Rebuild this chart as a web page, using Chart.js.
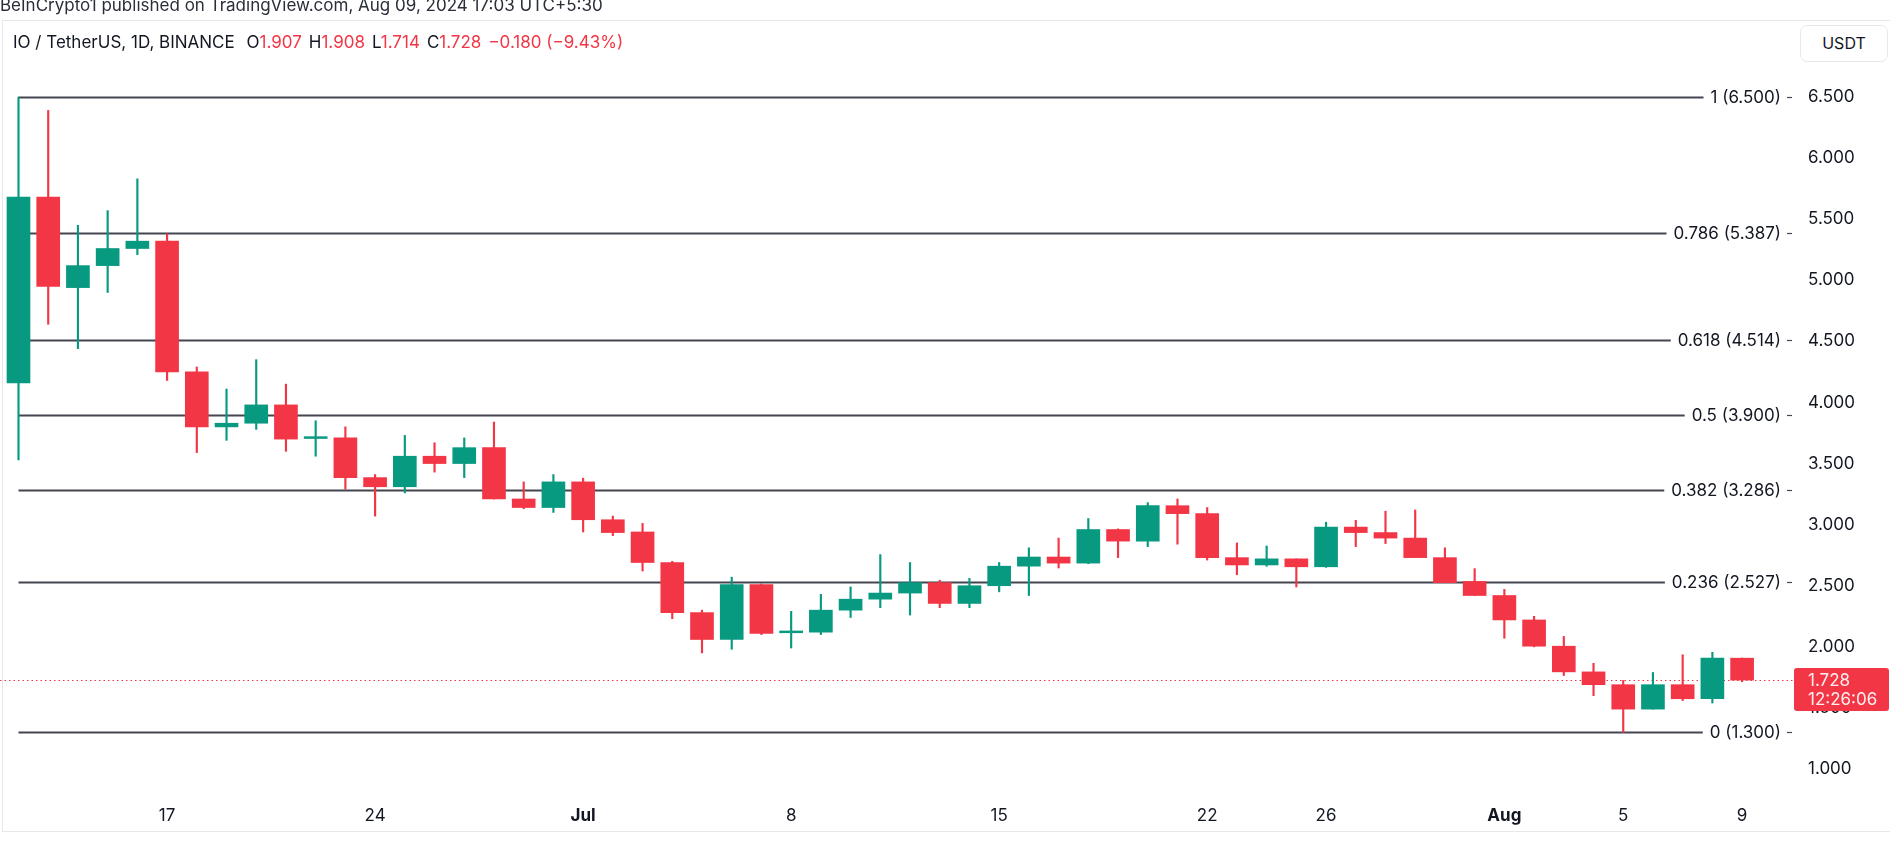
<!DOCTYPE html>
<html>
<head>
<meta charset="utf-8">
<script src="https://cdn.jsdelivr.net/npm/chart.js@4.4.1/dist/chart.umd.min.js"></script>
<style>
  html, body { margin: 0; padding: 0; background: #fff; }
  #wrap { position: relative; width: 1890px; height: 845px; overflow: hidden; font-family: Inter, "Noto Sans", sans-serif; color: #131722; }
  #chart { position: absolute; left: 0; top: 0; }
  #frame { position: absolute; left: 2px; top: 20px; width: 1900px; height: 812px; border: 1px solid #e6e8ee; box-sizing: border-box; pointer-events: none; }
  #published { position: absolute; left: 0; top: -5px; font-size: 17px; line-height: 20px; white-space: nowrap; color: #2a2e39; }
  #legend { position: absolute; left: 13px; top: 32px; font-size: 17px; line-height: 20px; white-space: nowrap; }
  #legend .r { color: #f23645; }
  #legend .g { margin-left: 7px; }
  #unit { position: absolute; left: 1800px; top: 25px; width: 88px; height: 37px; border: 1px solid #e6e8ee; border-radius: 7px; box-sizing: border-box; font-size: 16px; line-height: 35px; text-align: center; background: #fff; }
</style>
</head>
<body>
<div id="wrap">
  <canvas id="chart" width="1890" height="845"></canvas>
  <div id="frame"></div>
  <div id="published">BeInCrypto1 published on TradingView.com, Aug 09, 2024 17:03 UTC+5:30</div>
  <div id="legend">IO / TetherUS, 1D, BINANCE <span class="g">O<span class="r">1.907</span></span><span class="g">H<span class="r">1.908</span></span><span class="g">L<span class="r">1.714</span></span><span class="g">C<span class="r">1.728</span></span><span class="g r">−0.180 (−9.43%)</span></div>
  <div id="unit">USDT</div>
</div>
<script>
// velas diarias IO/USDT, 12 jun - 9 ago 2024 (indice 0 = 12 jun)
const opens  = [4.16, 5.68, 4.94, 5.12, 5.26, 5.32, 4.25, 3.80, 3.83, 3.98,
                3.705, 3.71, 3.385, 3.31, 3.56, 3.50, 3.63, 3.21, 3.14, 3.35,
                3.04, 2.94, 2.69, 2.28, 2.06, 2.51, 2.115, 2.12, 2.30, 2.39,
                2.44, 2.525, 2.355, 2.50, 2.66, 2.735, 2.685, 2.96, 2.865, 3.155,
                3.09, 2.73, 2.67, 2.72, 2.655, 2.98, 2.935, 2.89, 2.73, 2.535,
                2.42, 2.22, 2.005, 1.795, 1.69, 1.49, 1.69, 1.575, 1.907];
const highs  = [6.50, 6.39, 5.45, 5.57, 5.83, 5.38, 4.29, 4.11, 4.35, 4.15,
                3.85, 3.80, 3.41, 3.73, 3.67, 3.71, 3.84, 3.35, 3.41, 3.38,
                3.07, 3.01, 2.70, 2.30, 2.57, 2.515, 2.29, 2.43, 2.49, 2.755,
                2.69, 2.545, 2.56, 2.69, 2.81, 2.89, 3.05, 2.965, 3.18, 3.21,
                3.14, 2.85, 2.825, 2.72, 3.02, 3.035, 3.11, 3.12, 2.81, 2.64,
                2.47, 2.25, 2.085, 1.865, 1.725, 1.79, 1.935, 1.955, 1.908];
const lows   = [3.53, 4.64, 4.44, 4.90, 5.21, 4.18, 3.59, 3.69, 3.78, 3.60,
                3.56, 3.29, 3.07, 3.26, 3.43, 3.385, 3.21, 3.13, 3.10, 2.94,
                2.91, 2.62, 2.23, 1.95, 1.98, 2.10, 1.99, 2.10, 2.24, 2.32,
                2.26, 2.32, 2.32, 2.45, 2.42, 2.645, 2.68, 2.73, 2.82, 2.84,
                2.71, 2.59, 2.66, 2.49, 2.65, 2.82, 2.845, 2.73, 2.525, 2.42,
                2.07, 2.00, 1.765, 1.60, 1.30, 1.49, 1.56, 1.54, 1.714];
const closes = [5.68, 4.95, 5.12, 5.26, 5.32, 4.25, 3.80, 3.83, 3.98, 3.70,
                3.72, 3.385, 3.31, 3.56, 3.50, 3.63, 3.21, 3.14, 3.35, 3.04,
                2.935, 2.69, 2.28, 2.06, 2.51, 2.11, 2.13, 2.30, 2.39, 2.44,
                2.525, 2.355, 2.50, 2.66, 2.735, 2.685, 2.96, 2.865, 3.155, 3.09,
                2.73, 2.67, 2.72, 2.655, 2.98, 2.935, 2.89, 2.73, 2.525, 2.42,
                2.22, 2.005, 1.795, 1.69, 1.49, 1.69, 1.575, 1.907, 1.728];

// etiquetas del eje de tiempo
const tickDays   = [5, 12, 19, 26, 33, 40, 44, 50, 54, 58];
const tickLabels = ['17', '24', 'Jul', '8', '15', '22', '26', 'Aug', '5', '9'];
const monthLabels = ['Jul', 'Aug'];

// escala de precios
const priceTicks = [1.0, 1.5, 2.0, 2.5, 3.0, 3.5, 4.0, 4.5, 5.0, 5.5, 6.0, 6.5];

// niveles de Fibonacci
const fibRatios = ['1', '0.786', '0.618', '0.5', '0.382', '0.236', '0'];
const fibPrices = [6.5, 5.387, 4.514, 3.9, 3.286, 2.527, 1.3];

const lastPrice = 1.728;
const countdown = '12:26:06';

const UP = '#089981';
const DOWN = '#f23645';
const FONT = 'Inter, "Noto Sans", sans-serif';

const candleColors = opens.map((o, i) => closes[i] >= o ? UP : DOWN);

const fibPlugin = {
    id: 'fib',
    beforeDatasetsDraw(chart) {
        const { ctx, scales: { x, y }, chartArea } = chart;
        ctx.save();
        ctx.font = '17px ' + FONT;
        const x0 = x.getPixelForValue(0);
        const textRight = chartArea.right - 14;
        fibPrices.forEach((p, i) => {
            const py = Math.round(y.getPixelForValue(p)) + 0.5;
            const label = fibRatios[i] + ' (' + p.toFixed(3) + ')';
            const w = ctx.measureText(label).width;
            ctx.strokeStyle = '#434651';
            ctx.lineWidth = 1.8;
            ctx.beginPath();
            ctx.moveTo(x0, py);
            ctx.lineTo(textRight - w - 7, py);
            ctx.stroke();
            ctx.fillStyle = '#131722';
            ctx.textAlign = 'right';
            ctx.textBaseline = 'middle';
            ctx.fillText(label, textRight, py);
            ctx.lineWidth = 1.2;
            ctx.beginPath();
            ctx.moveTo(textRight + 6, py);
            ctx.lineTo(textRight + 11, py);
            ctx.stroke();
        });
        // linea del ultimo precio
        const ly = Math.round(y.getPixelForValue(lastPrice)) + 0.5;
        ctx.strokeStyle = DOWN;
        ctx.lineWidth = 1;
        ctx.setLineDash([1.5, 3]);
        ctx.beginPath();
        ctx.moveTo(chartArea.left, ly);
        ctx.lineTo(chartArea.right, ly);
        ctx.stroke();
        ctx.restore();
    },
    afterDraw(chart) {
        const { ctx, scales: { y }, chartArea } = chart;
        const ly = y.getPixelForValue(lastPrice);
        ctx.save();
        ctx.fillStyle = DOWN;
        ctx.beginPath();
        ctx.roundRect(chartArea.right - 1, ly - 12, 95, 43, 3);
        ctx.fill();
        ctx.fillStyle = 'rgba(255,255,255,0.92)';
        ctx.font = '17px ' + FONT;
        ctx.textAlign = 'left';
        ctx.textBaseline = 'middle';
        ctx.fillText(lastPrice.toFixed(3), chartArea.right + 13, ly + 1);
        ctx.fillText(countdown, chartArea.right + 13, ly + 20);
        ctx.restore();
    }
};

new Chart(document.getElementById('chart'), {
    type: 'bar',
    data: {
        datasets: [
            {
                label: 'body',
                data: opens.map((o, i) => ({ x: i, y: [o, closes[i]] })),
                backgroundColor: candleColors,
                barThickness: 23,
                grouped: false,
                order: 0
            },
            {
                label: 'wick',
                data: lows.map((l, i) => ({ x: i, y: [l, highs[i]] })),
                backgroundColor: candleColors,
                barThickness: 1.5,
                grouped: false,
                order: 1
            }
        ]
    },
    options: {
        responsive: false,
        animation: false,
        layout: { padding: { top: 70, left: 0, right: 0, bottom: 0 } },
        plugins: { legend: { display: false }, tooltip: { enabled: false } },
        scales: {
            x: {
                type: 'linear',
                offset: false,
                min: -0.6225,
                max: 59.78,
                grid: { display: false, drawTicks: false },
                border: { display: false },
                afterBuildTicks: s => { s.ticks = tickDays.map(v => ({ value: v })); },
                afterFit: s => { s.height = 50; },
                ticks: {
                    autoSkip: false,
                    maxRotation: 0,
                    padding: 11,
                    color: '#131722',
                    font: c => ({ family: FONT, size: 17, weight: monthLabels.includes(tickLabels[c.index]) ? 'bold' : 'normal' }),
                    callback: (v, i) => tickLabels[i]
                }
            },
            y: {
                position: 'right',
                min: 0.7872,
                max: 6.721,
                grid: { display: false, drawTicks: false },
                border: { display: false },
                afterBuildTicks: s => { s.ticks = priceTicks.map(v => ({ value: v })); },
                afterFit: s => { s.width = 95; },
                ticks: {
                    padding: 13,
                    color: '#131722',
                    font: { family: FONT, size: 17 },
                    callback: v => Number(v).toFixed(3)
                }
            }
        }
    },
    plugins: [fibPlugin]
});
</script>
</body>
</html>
